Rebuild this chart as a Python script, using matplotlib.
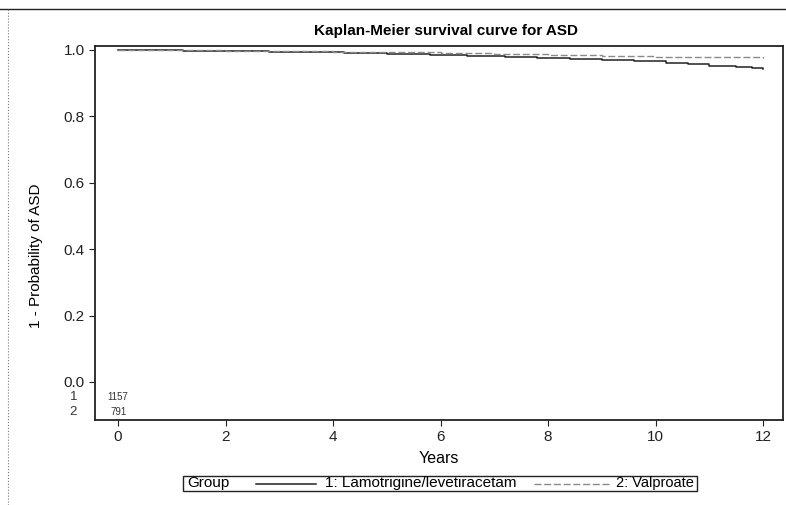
"""Kaplan-Meier curve for ASD, two treatment groups, with numbers at risk."""

import matplotlib

matplotlib.use("Agg")
import matplotlib.pyplot as plt  # noqa: E402
from matplotlib.lines import Line2D  # noqa: E402
from matplotlib.patches import Rectangle  # noqa: E402

plt.rcParams["font.family"] = ["Liberation Sans", "DejaVu Sans"]

# group 1: lamotrigine / levetiracetam (solid)
T1 = [0, 0.5, 1.2, 2.0, 2.8, 3.5, 4.2, 5.0, 5.8, 6.5, 7.2, 7.8, 8.4, 9.0,
      9.6, 10.2, 10.6, 11.0, 11.5, 11.8, 12.0]
S1 = [1.0, 0.999, 0.998, 0.997, 0.995, 0.993, 0.991, 0.989, 0.986, 0.983,
      0.980, 0.977, 0.974, 0.971, 0.967, 0.962, 0.957, 0.953, 0.950, 0.945, 0.943]
# group 2: valproate (dashed)
T2 = [0, 1, 2, 3, 4, 5, 6, 7, 8, 9, 10, 11, 12]
S2 = [1.0, 0.999, 0.998, 0.997, 0.995, 0.993, 0.991, 0.989, 0.986, 0.983,
      0.980, 0.978, 0.976]

GROUPS = ["1", "2"]
AT_RISK = [1157, 791]
LABELS = ["1: Lamotrigine/levetiracetam", "2: Valproate"]
XTICKS = [0, 2, 4, 6, 8, 10, 12]
YTICKS = [0.0, 0.2, 0.4, 0.6, 0.8, 1.0]

fig = plt.figure(figsize=(7.86, 5.05), dpi=100)
ax = fig.add_axes((95 / 786, 1 - 420 / 505, 688 / 786, 374 / 505))

ax.plot(T1, S1, drawstyle="steps-post", color="#222222", lw=1.1)
ax.plot(T2, S2, drawstyle="steps-post", color="#8a8a8a", lw=1.0, ls=(0, (5, 2)))

ax.set_xlim(-0.43, 12.37)
ax.set_ylim(-0.1145, 1.012)
ax.set_xticks(XTICKS)
ax.set_yticks(YTICKS)
ax.set_yticklabels([f"{v:.1f}" for v in YTICKS])
ax.tick_params(axis="both", direction="out", length=4, width=0.8,
               labelsize=11, colors="#222222")
for sp in ax.spines.values():
    sp.set_color("#222222")
    sp.set_linewidth(1.3)

# numbers at risk
ypos = [-0.045, -0.09]
for g, n, y in zip(GROUPS, AT_RISK, ypos):
    ax.text(0, y, str(n), ha="center", va="center", fontsize=7, color="#333333")
    ax.text(-0.026, y, g, transform=ax.get_yaxis_transform(), ha="right",
            va="center", fontsize=9.5, color="#333333")

ax.set_title("Kaplan-Meier survival curve for ASD", fontsize=11,
             fontweight="bold", pad=8, x=0.51)
ax.set_xlabel("Years", fontsize=11.5, labelpad=5)
ax.set_ylabel("1 - Probability of ASD", fontsize=11)
ax.yaxis.set_label_coords(-0.075, 0.44)

# legend strip along the bottom
W, H = 786, 505
fig.patches.append(Rectangle((183 / W, 1 - 491 / H), 514 / W, 15 / H,
                             transform=fig.transFigure, fill=False,
                             edgecolor="#222222", lw=1.0))
fig.text(187 / W, 1 - 483.5 / H, "Group", fontsize=11, va="center")
fig.lines.append(Line2D([256 / W, 316 / W], [1 - 483.5 / H] * 2,
                        transform=fig.transFigure, color="#222222", lw=1.1))
fig.text(325 / W, 1 - 483.5 / H, LABELS[0], fontsize=11, va="center")
fig.lines.append(Line2D([534 / W, 610 / W], [1 - 483.5 / H] * 2,
                        transform=fig.transFigure, color="#8a8a8a", lw=1.0,
                        ls=(0, (5, 2))))
fig.text(616 / W, 1 - 483.5 / H, LABELS[1], fontsize=10.5, va="center")

# page frame
fig.lines.append(Line2D([0, 1], [1 - 9 / H] * 2, transform=fig.transFigure,
                        color="#222222", lw=1.0))
fig.lines.append(Line2D([8 / W] * 2, [0, 1 - 9 / H], transform=fig.transFigure,
                        color="#777777", lw=0.8, ls=":"))

fig.savefig("out.png", dpi=100)
